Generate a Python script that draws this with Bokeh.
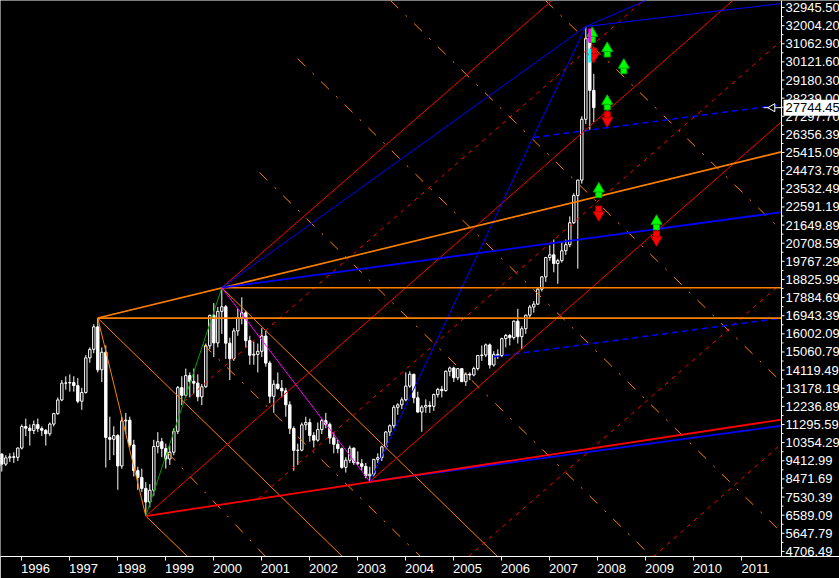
from bokeh.plotting import figure
from bokeh.models import Range1d, FixedTicker, CustomJSTickFormatter, Span
from bokeh.core.properties import value
from bokeh.embed import file_html
from bokeh.resources import INLINE

# ---------------- monthly candles (Jul 1995 .. Dec 2007) ----------------
first_year = 1995
first_month = 7

opens = [9150, 9760, 9240, 9565, 9620, 9590,
         10073, 11193, 11102, 10978, 11290, 11083, 10995, 10813, 11318, 11860, 12571, 13444,
         13451, 13474, 13314, 12505, 12960, 14757, 15197, 16365, 14135, 15049, 10623, 10527,
         10722, 9143, 11480, 11518, 10234, 8900, 8543, 7978, 7275, 7883, 10154, 10402,
         10049, 9506, 9858, 10942, 13210, 12813, 13836, 13532, 13443, 12733, 13256, 15377,
         16962, 15532, 17169, 17407, 15519, 14713, 16155, 16841, 17097, 15649, 14895, 14938,
         15096, 15890, 14484, 12761, 13387, 13174, 13043, 12316, 11090, 9951, 9963, 11279,
         11397, 10725, 10482, 11033, 11498, 11302, 10599, 10268, 10043, 9072, 9441, 10070,
         9321, 9258, 9122, 8634, 8717, 9487, 9577, 10134, 10908, 11230, 12190, 12318,
         12576, 13289, 13908, 12682, 11942, 12198, 12286, 12239, 12850, 13120, 13055, 14060,
         14230, 13721, 14195, 13517, 13908, 13867, 14201, 14880, 14903, 15429, 14386, 14937,
         14876, 15753, 15918, 15805, 16661, 15857, 16267, 16971, 17392, 17543, 18324, 18960,
         19965, 20106, 19652, 19801, 20318, 20634, 21773, 23185, 23984, 27142, 31352, 28643]
highs = [9850, 9800, 9700, 9800, 9850, 10100,
         11300, 11600, 11300, 11500, 11600, 11200, 11050, 11400, 11900, 12700, 13600, 13800,
         13900, 13800, 13700, 13200, 14900, 15300, 16500, 16820, 15300, 15400, 11700, 11200,
         10800, 11700, 11900, 11700, 10500, 9100, 9000, 8300, 8200, 10500, 10900, 10600,
         10300, 10200, 11100, 13300, 13800, 14200, 14000, 14200, 13900, 13400, 15500, 17000,
         17600, 17400, 18397, 17500, 15800, 16300, 17300, 17900, 17200, 15900, 15600, 15500,
         16300, 16200, 14600, 13600, 14000, 13600, 13200, 12500, 11200, 10300, 11400, 11700,
         11600, 10900, 11400, 11600, 11900, 11400, 10900, 10500, 10100, 9600, 10200, 10100,
         9900, 9500, 9300, 9100, 9500, 9800, 10200, 10950, 11300, 12300, 12400, 12700,
         14000, 14058, 13900, 13000, 12300, 12600, 12500, 12900, 13200, 13300, 14100, 14300,
         14300, 14200, 14200, 14000, 14000, 14300, 14900, 15400, 15500, 15500, 15100, 15200,
         15800, 16000, 16000, 16700, 17300, 16400, 17000, 17500, 17700, 18400, 19000, 20000,
         20600, 20900, 19900, 20800, 20900, 22100, 23300, 24000, 27300, 31958, 31700, 29500]
lows = [9100, 8850, 9150, 9350, 9300, 9400,
        10000, 10700, 10200, 10800, 10900, 10700, 10200, 10700, 11200, 11800, 12500, 13100,
        13000, 13000, 12400, 12055, 12900, 14500, 15000, 14000, 13500, 9059, 9450, 9700,
        7909, 9000, 10800, 10100, 8600, 7900, 7800, 6544, 7000, 7600, 9800, 9600,
        9000, 9200, 9700, 10800, 12300, 12700, 12700, 12900, 12500, 12300, 13200, 15200,
        14800, 15300, 16000, 14700, 13600, 14600, 15900, 16500, 15300, 14400, 14400, 14000,
        14800, 14300, 12400, 11900, 13100, 12700, 11700, 10800, 8894, 9200, 9900, 11000,
        10400, 10100, 10400, 10800, 11100, 10300, 9800, 9800, 9000, 8800, 9300, 9200,
        9200, 8900, 8500, 8331, 8600, 9300, 9400, 10000, 10700, 11100, 11800, 12100,
        12500, 13200, 12400, 11900, 10918, 11900, 11900, 12000, 12700, 12700, 13000, 13800,
        13500, 13600, 13500, 13300, 13600, 13800, 14100, 14600, 14800, 14200, 14300, 14700,
        14800, 15300, 15400, 15700, 15500, 15200, 16000, 16800, 17100, 17500, 18200, 18700,
        19800, 19200, 18600, 19700, 20100, 20500, 21700, 19386, 23800, 26900, 26600, 27000]
closes = [9760, 9240, 9565, 9620, 9590, 10073,
          11193, 11102, 10978, 11290, 11083, 10995, 10813, 11318, 11860, 12571, 13444, 13451,
          13474, 13314, 12505, 12960, 14757, 15197, 16365, 14135, 15049, 10623, 10527, 10722,
          9143, 11480, 11518, 10234, 8900, 8543, 7978, 7275, 7883, 10154, 10402, 10049,
          9506, 9858, 10942, 13210, 12813, 13836, 13532, 13443, 12733, 13256, 15377, 16962,
          15532, 17169, 17407, 15519, 14713, 16155, 16841, 17097, 15649, 14895, 14938, 15096,
          15890, 14484, 12761, 13387, 13174, 13043, 12316, 11090, 9951, 9963, 11279, 11397,
          10725, 10482, 11033, 11498, 11302, 10599, 10268, 10043, 9072, 9441, 10070, 9321,
          9258, 9122, 8634, 8717, 9487, 9577, 10134, 10908, 11230, 12190, 12318, 12576,
          13289, 13908, 12682, 11942, 12198, 12286, 12239, 12850, 13120, 13055, 14060, 14230,
          13721, 14195, 13517, 13908, 13867, 14201, 14880, 14903, 15429, 14386, 14937, 14876,
          15753, 15918, 15805, 16661, 15857, 16267, 16971, 17392, 17543, 18324, 18960, 19965,
          20106, 19652, 19801, 20318, 20634, 21773, 23185, 23984, 27142, 31352, 28643, 27744]

last_price = 27744.45

# indicator highlights painted on the Nov 2007 candle (magenta, cyan)
hl_t = [2007.833, 2007.833]
hl_bottom = [31128, 30090]
hl_top = [31855, 30817]

# ---------------- axes ----------------
x_start, price_axis_t = 1995.556, 2011.827      # left edge / position of the price scale
y_start, y_end = 4442.5, 33308.9
years = list(range(1996, 2012))
y_ticks = [4706.49, 5647.79, 6589.09, 7530.39, 8471.69, 9412.99, 10354.29, 11295.59,
           12236.89, 13178.19, 14119.49, 15060.79, 16002.09, 16943.39, 17884.69, 18825.99,
           19767.29, 20708.59, 21649.89, 22591.19, 23532.49, 24473.79, 25415.09, 26356.39,
           27297.70, 28239.00, 29180.30, 30121.60, 31062.90, 32004.20, 32945.50]

# ---------------- trend lines (decimal year, index level) ----------------
# pivots: 1997 top, 1998 low, 2000 top, 2003 low, 2007 top
pivot_t = [1997.583, 1998.583, 2000.167, 2003.25, 2007.75]
pivot_v = [16820, 6544, 18397, 8331, 31958]

orange_thin_t0 = [1997.583, 1997.583, 1998.583, 2000.167]
orange_thin_v0 = [16820, 16820, 6544, 18397]
orange_thin_t1 = [1998.583, 2002.68, 1999.452, 2005.91]
orange_thin_v1 = [6544, 4442.5, 4442.5, 4442.5]

orange_thick_t0 = [1997.583, 1997.583, 2000.167]
orange_thick_v0 = [16820, 16820, 18397]
orange_thick_t1 = [2011.827, 2011.827, 2011.827]
orange_thick_v1 = [25450, 16820, 18397]

orange_dash_t0 = [1999.035, 1999.785, 2000.952, 2001.744, 2003.681, 2006.91]
orange_dash_v0 = [9842, 15449, 24379, 30298, 33309, 33309]
orange_dash_t1 = [2001.077, 2004.306, 2009.119, 2011.827, 2011.827, 2011.827]
orange_dash_v1 = [4442.5, 4442.5, 4442.5, 5689, 13497, 21368]

red_thin_t0 = [2000.167, 1998.583, 2003.25]
red_thin_v0 = [18397, 6544, 8331]
red_thin_t1 = [2007.044, 2010.814, 2011.827]
red_thin_v1 = [33309, 33309, 27011]

red_thick_t0 = [1998.583]
red_thick_v0 = [6544]
red_thick_t1 = [2011.827]
red_thick_v1 = [11550]

red_dash_t0 = [1999.375, 2000.917, 2005.306, 2009.16]
red_dash_v0 = [12469, 7438, 4442.5, 4442.5]
red_dash_t1 = [2008.95, 2011.827, 2011.827, 2011.827]
red_dash_v1 = [33309, 31232, 18637, 10300]

blue_thin_t0 = [2003.25, 2000.167, 2007.75, 2007.75]
blue_thin_v0 = [8331, 18397, 31958, 31958]
blue_thin_t1 = [2007.75, 2007.75, 2011.827, 2009.0]
blue_thin_v1 = [31958, 31958, 33150, 33309]

blue_thick_t0 = [2000.167, 2003.25]
blue_thick_v0 = [18397, 8331]
blue_thick_t1 = [2011.827, 2011.827]
blue_thick_v1 = [22320, 11230]

blue_dash_t0 = [2006.66, 2005.827]
blue_dash_v0 = [26196, 14811]
blue_dash_t1 = [2011.827, 2011.827]
blue_dash_v1 = [27900, 16820]

# signal arrows
up_t = [2008.196, 2008.542, 2008.196, 2008.021, 2009.223, 2007.883]
up_tail = [30401, 29534, 27650, 23097, 21420, 31144]
up_tip = [31113, 30246, 28377, 23823, 22146, 31923]
dn_t = [2008.196, 2008.021, 2009.223, 2007.91]
dn_tail = [27510, 22614, 21316, 30817]
dn_tip = [26767, 21887, 20589, 30105]

# ---------------- figure ----------------
W, H = 839, 578
FRAME_W, FRAME_H = 839, 556
PLOT_W = 781                       # width of the price area left of the scale
x_end = x_start + (price_axis_t - x_start) * FRAME_W / PLOT_W
px = (x_end - x_start) / FRAME_W  # one screen pixel in years

p = figure(width=W, height=H, output_backend="svg", toolbar_location=None,
           x_range=Range1d(x_start, x_end), y_range=Range1d(y_start, y_end),
           y_axis_location=None, min_border_left=0, min_border_top=0,
           min_border_right=0, min_border_bottom=H - FRAME_H,
           background_fill_color="black", border_fill_color="black",
           outline_line_color=None)
p.styles = {"position": "absolute", "left": "0px", "top": "0px"}
p.grid.visible = False

n = len(closes)
t = [first_year + (first_month - 1 + i) / 12 for i in range(n)]
up_idx = [i for i in range(n) if closes[i] >= opens[i]]
dn_idx = [i for i in range(n) if closes[i] < opens[i]]

p.segment(t, lows, t, highs, line_color="white", line_width=1)
p.vbar(x=[t[i] for i in up_idx], bottom=[opens[i] for i in up_idx], top=[closes[i] for i in up_idx],
       width=0.05, fill_color="black", line_color="white", line_width=1)
p.vbar(x=[t[i] for i in dn_idx], bottom=[closes[i] for i in dn_idx], top=[opens[i] for i in dn_idx],
       width=0.05, fill_color="white", line_color="white", line_width=1)

ORANGE, RED, BLUE = "#ff8000", "#ff0000", "#0000ff"
p.segment(orange_thin_t0, orange_thin_v0, orange_thin_t1, orange_thin_v1, line_color=ORANGE, line_width=1)
p.segment(orange_dash_t0, orange_dash_v0, orange_dash_t1, orange_dash_v1, line_color=ORANGE, line_width=1,
          line_dash="11 10 2 10")
p.segment(red_dash_t0, red_dash_v0, red_dash_t1, red_dash_v1, line_color=RED, line_width=1, line_dash="4 5")
p.segment(blue_dash_t0, blue_dash_v0, blue_dash_t1, blue_dash_v1, line_color=BLUE, line_width=1.5, line_dash="6 4")
p.segment(red_thin_t0, red_thin_v0, red_thin_t1, red_thin_v1, line_color=RED, line_width=1)
p.segment(blue_thin_t0, blue_thin_v0, blue_thin_t1, blue_thin_v1, line_color=BLUE, line_width=1)
p.segment(orange_thick_t0, orange_thick_v0, orange_thick_t1, orange_thick_v1, line_color=ORANGE, line_width=1.6)
p.segment(blue_thick_t0, blue_thick_v0, blue_thick_t1, blue_thick_v1, line_color=BLUE, line_width=1.8)
p.segment(red_thick_t0, red_thick_v0, red_thick_t1, red_thick_v1, line_color=RED, line_width=1.8)
p.line(pivot_t[1:3], pivot_v[1:3], line_color="#00a000", line_width=1)
p.line(pivot_t[2:4], pivot_v[2:4], line_color="#ff00ff", line_width=1)

# arrows
up_shaft = [a + 0.22 * (b - a) for a, b in zip(up_tail, up_tip)]
up_head = [a + 0.6 * (b - a) for a, b in zip(up_tail, up_tip)]
dn_shaft = [a + 0.22 * (b - a) for a, b in zip(dn_tail, dn_tip)]
dn_head = [a + 0.6 * (b - a) for a, b in zip(dn_tail, dn_tip)]
p.rect(up_t, up_shaft, width=6, height=7, width_units="screen", height_units="screen",
       fill_color="#00ff00", line_color="#00b000")
p.scatter(up_t, up_head, marker="triangle", size=11, fill_color="#00ff00", line_color="#00b000")
p.rect(dn_t, dn_shaft, width=6, height=7, width_units="screen", height_units="screen",
       fill_color="#ff0000", line_color="#c00000")
p.scatter(dn_t, dn_head, marker="inverted_triangle", size=11, fill_color="#ff0000", line_color="#c00000")

# candle highlights
p.vbar(x=hl_t, bottom=hl_bottom, top=hl_top, width=0.06,
       fill_color=["#ff00ff", "#00ffff"], line_color=None)

FONT = "Liberation Sans"

# ---- price scale on the right (line, ticks, labels) ----
p.add_layout(Span(location=price_axis_t, dimension="height", line_color="white", line_width=1))
minor_y = [(a + b) / 2 for a, b in zip(y_ticks[:-1], y_ticks[1:])]
p.segment([price_axis_t] * len(y_ticks), y_ticks, [price_axis_t + 3 * px] * len(y_ticks), y_ticks,
          line_color="white", line_width=1)
p.segment([price_axis_t] * len(minor_y), minor_y, [price_axis_t + 2 * px] * len(minor_y), minor_y,
          line_color="white", line_width=1)
p.text([price_axis_t] * len(y_ticks), y_ticks, text=[f"{v:.2f}" for v in y_ticks],
       x_offset=4, text_align="left", text_baseline="middle", text_color="white",
       text_font=value(FONT), text_font_size="13px")

# last price marker
p.rect([price_axis_t + 30 * px], [last_price], width=56, height=16,
       width_units="screen", height_units="screen", fill_color="white", line_color=None)
p.text([price_axis_t], [last_price], text=[f"{last_price:.2f}"], x_offset=4,
       text_align="left", text_baseline="middle", text_color="black",
       text_font=value(FONT), text_font_size="13px")
p.segment([price_axis_t - 18 * px], [last_price], [price_axis_t], [last_price],
          line_color="white", line_width=1)
p.scatter([price_axis_t - 9 * px], [last_price], marker="triangle", angle=1.5708, size=8,
          fill_color="black", line_color="white", line_width=1)

# ---- time axis ----
xax = p.xaxis[0]
xax.ticker = FixedTicker(ticks=[y + 0.285 for y in years], minor_ticks=years)
xax.formatter = CustomJSTickFormatter(code="return Math.floor(tick).toString()")
xax.major_tick_out = 0
xax.major_tick_in = 0
xax.minor_tick_out = 4
xax.minor_tick_in = 0
xax.major_label_standoff = 3
xax.axis_line_color = "white"
xax.major_tick_line_color = "white"
xax.minor_tick_line_color = "white"
xax.major_label_text_color = "white"
xax.major_label_text_font = FONT
xax.major_label_text_font_size = "13px"

open("out.html", "w").write(file_html(p, INLINE))
